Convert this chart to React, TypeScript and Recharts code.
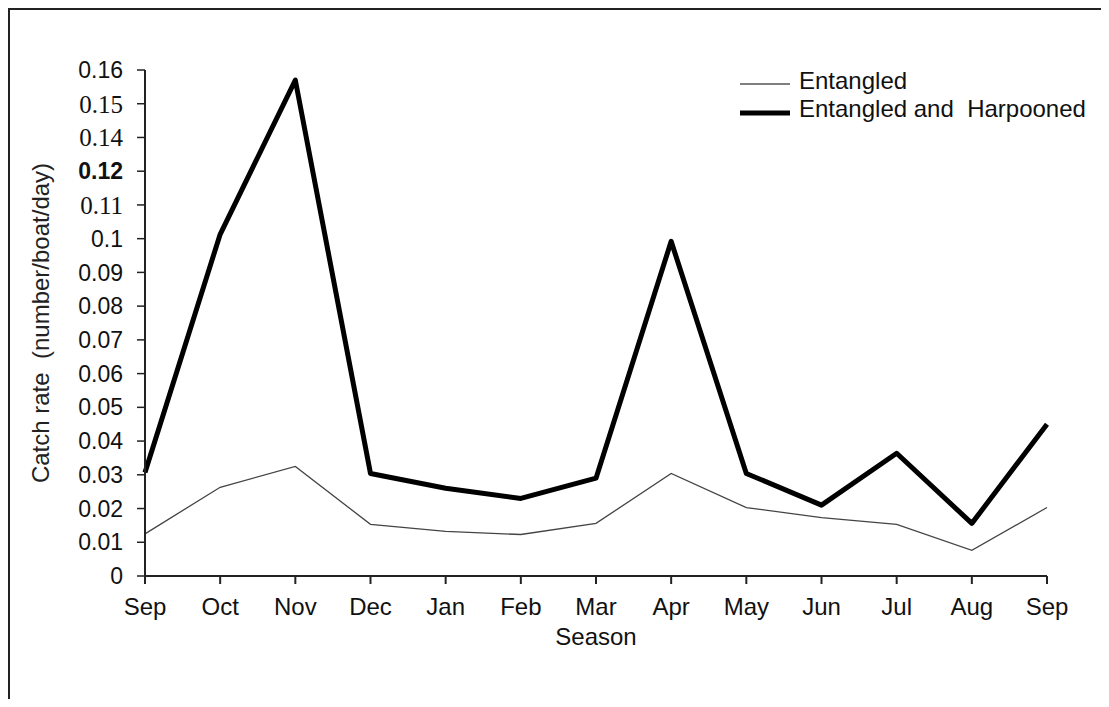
import React from 'react';
import { LineChart, Line, XAxis, YAxis, Legend, Label } from 'recharts';

const months = ['Sep', 'Oct', 'Nov', 'Dec', 'Jan', 'Feb', 'Mar', 'Apr', 'May', 'Jun', 'Jul', 'Aug', 'Sep'];
const entangled = [0.0125, 0.0263, 0.0325, 0.0153, 0.0132, 0.0123, 0.0156, 0.0304, 0.0203, 0.0173, 0.0153, 0.0076, 0.0203];
const entangledHarpooned = [0.0307, 0.1013, 0.147, 0.0304, 0.026, 0.023, 0.029, 0.0992, 0.0304, 0.021, 0.0364, 0.0156, 0.045];

// tick labels as printed on the original axis (0.13 is printed as a bold 0.12)
const yTickLabels = ['0', '0.01', '0.02', '0.03', '0.04', '0.05', '0.06', '0.07', '0.08', '0.09', '0.1', '0.11', '0.12', '0.14', '0.15', '0.16'];
const yTicks = yTickLabels.map((_, i) => i / 100);

const seriesNames = ['Entangled', 'Entangled and  Harpooned'];

const data = months.map((month, i) => ({
  month,
  entangled: entangled[i],
  harpooned: entangledHarpooned[i],
}));

const FONT = '"Liberation Sans", Arial, Helvetica, sans-serif';
const SERIF = '"Liberation Serif", "Times New Roman", serif';
const INK = '#111';

const serifTicks = [11, 13, 14];
const boldTicks = [12];

const YTick: React.FC<any> = ({ x, y, payload }) => {
  const i = Math.round(payload.value * 100);
  const serif = serifTicks.includes(i);
  return (
    <text
      x={x}
      y={y}
      dy="0.355em"
      textAnchor="end"
      fill={INK}
      fontFamily={serif ? SERIF : FONT}
      fontSize={serif ? 25 : 23}
      fontWeight={boldTicks.includes(i) ? 'bold' : 'normal'}
    >
      {yTickLabels[i]}
    </text>
  );
};

const LegendContent: React.FC = () => (
  <div style={{ fontFamily: FONT, fontSize: 24, color: INK, lineHeight: '28px' }}>
    {seriesNames.map((name, i) => (
      <div key={name} style={{ display: 'flex', alignItems: 'flex-start', height: 28 }}>
        <svg width={50} height={28} style={{ marginRight: 9, flexShrink: 0 }}>
          <line
            x1={0}
            x2={50}
            y1={i === 0 ? 17 : 18}
            y2={i === 0 ? 17 : 18}
            stroke={i === 0 ? '#555' : '#000'}
            strokeWidth={i === 0 ? 1.3 : 5}
          />
        </svg>
        <span style={{ whiteSpace: 'pre' }}>{name}</span>
      </div>
    ))}
  </div>
);

export default function App() {
  return (
    <div
      style={{
        width: 1101,
        height: 699,
        marginBottom: -8,
        boxSizing: 'border-box',
        borderTop: '2px solid #222',
        borderLeft: '2px solid #222',
      }}
    >
      <LineChart
        width={1099}
        height={688}
        data={data}
        margin={{ top: 60, right: 62, left: 0, bottom: 82 }}
      >
        <XAxis
          dataKey="month"
          interval={0}
          height={40}
          tickSize={8}
          tickMargin={14}
          tick={{ fill: INK, fontSize: 24, fontFamily: FONT }}
          axisLine={{ stroke: '#222', strokeWidth: 2 }}
          tickLine={{ stroke: '#222', strokeWidth: 2 }}
        >
          <Label value="Season" position="bottom" offset={12} fill={INK} fontSize={24} fontFamily={FONT} />
        </XAxis>
        <YAxis
          width={135}
          type="number"
          domain={[0, 0.15]}
          ticks={yTicks}
          interval={0}
          tickSize={8}
          tickMargin={14}
          tick={<YTick />}
          axisLine={{ stroke: '#222', strokeWidth: 2 }}
          tickLine={{ stroke: '#222', strokeWidth: 1.5 }}
        >
          <Label
            value={'Catch rate\u00A0 (number/boat/day)'}
            angle={-90}
            position="insideLeft"
            offset={30}
            fill="#222"
            fontSize={24}
            fontFamily={FONT}
            style={{ textAnchor: 'middle' }}
          />
        </YAxis>
        <Legend
          layout="vertical"
          align="center"
          verticalAlign="middle"
          content={<LegendContent />}
          wrapperStyle={{ left: 730, top: 57, width: 360 }}
        />
        <Line
          type="linear"
          dataKey="entangled"
          name={seriesNames[0]}
          stroke="#444"
          strokeWidth={1.3}
          dot={false}
          activeDot={false}
          isAnimationActive={false}
        />
        <Line
          type="linear"
          dataKey="harpooned"
          name={seriesNames[1]}
          stroke="#000"
          strokeWidth={5}
          strokeLinejoin="round"
          dot={false}
          activeDot={false}
          isAnimationActive={false}
        />
      </LineChart>
    </div>
  );
}
